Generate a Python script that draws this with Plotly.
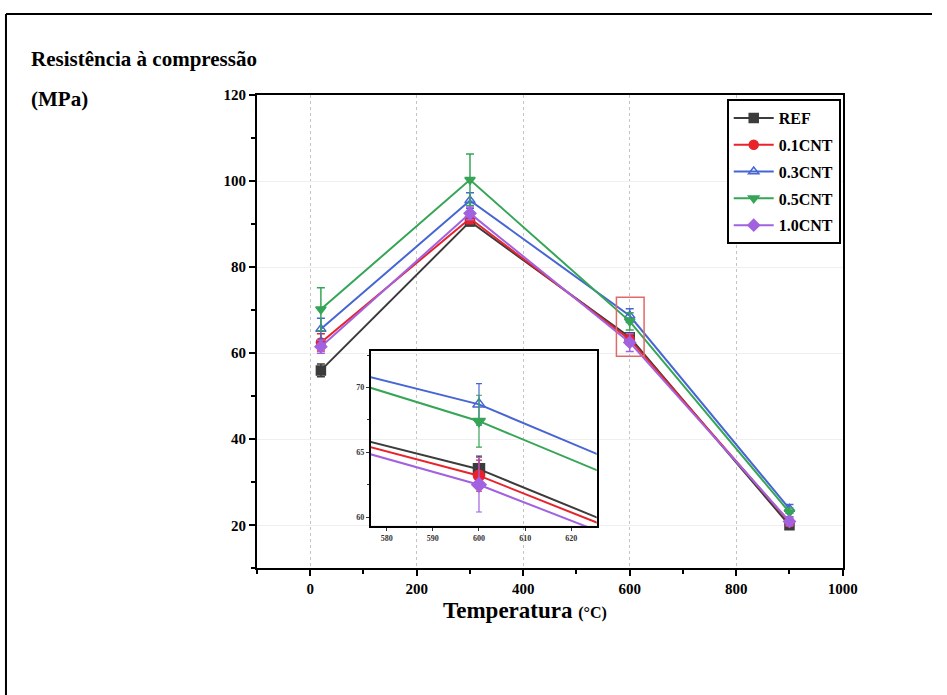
import plotly.graph_objects as go

# Compressive strength (MPa) vs exposure temperature (°C)
temps = [20, 300, 600, 900]
series_names = ["REF", "0.1CNT", "0.3CNT", "0.5CNT", "1.0CNT"]
ref_vals = [56.0, 90.6, 63.7, 20.0]
cnt01_vals = [62.5, 91.3, 63.2, 20.7]
cnt03_vals = [65.6, 95.5, 68.7, 23.8]
cnt05_vals = [70.2, 100.3, 67.4, 23.0]
cnt10_vals = [61.5, 92.5, 62.5, 20.9]
ref_err = [1.5, 1.0, 1.0, 0.8]
cnt01_err = [2.0, 1.2, 1.2, 0.8]
cnt03_err = [2.5, 1.8, 1.6, 1.0]
cnt05_err = [5.0, 6.0, 2.0, 1.0]
cnt10_err = [1.5, 1.5, 2.1, 1.0]

x_ticks = [0, 200, 400, 600, 800, 1000]
y_ticks = [20, 40, 60, 80, 100, 120]
inset_x_ticks = [580, 590, 600, 610, 620]
inset_y_ticks = [60, 65, 70]

values = [ref_vals, cnt01_vals, cnt03_vals, cnt05_vals, cnt10_vals]
errors = [ref_err, cnt01_err, cnt03_err, cnt05_err, cnt10_err]
colors = ["#3c3c3c", "#e8232b", "#4766d4", "#36a556", "#a262e0"]
symbols = ["square", "circle", "triangle-up-open", "triangle-down", "diamond"]

SERIF = "Liberation Serif"
W, H = 947, 695


def px_x(p):
    # pixel column -> paper x
    return ((p + 1) / 0.988) / W


def px_y(p):
    # pixel row -> paper y
    return 1 - ((p - 6) / 0.988) / H


fig = go.Figure()

# main chart
for i, name in enumerate(series_names):
    fig.add_trace(go.Scatter(
        x=temps, y=values[i], name=name, mode="lines+markers",
        line=dict(color=colors[i], width=2),
        marker=dict(symbol=symbols[i], size=9, color=colors[i],
                    line=dict(color=colors[i], width=1.5)),
        error_y=dict(type="data", array=errors[i], color=colors[i],
                     thickness=1.5, width=4),
        legendgroup=name, xaxis="x", yaxis="y",
    ))

# zoomed inset around 600 °C
for i, name in enumerate(series_names):
    fig.add_trace(go.Scatter(
        x=temps, y=values[i], name=name, mode="lines+markers",
        line=dict(color=colors[i], width=2),
        marker=dict(symbol=symbols[i], size=11, color=colors[i],
                    line=dict(color=colors[i], width=1.5)),
        error_y=dict(type="data", array=errors[i], color=colors[i],
                     thickness=1.2, width=3),
        showlegend=False, legendgroup=name, xaxis="x2", yaxis="y2",
    ))

axis_font = dict(family=SERIF, size=15, color="black", weight="bold")
inset_font = dict(family=SERIF, size=8, color="#333333", weight="bold")

fig.update_layout(
    width=W, height=H,
    margin=dict(l=0, r=0, t=0, b=0),
    paper_bgcolor="white", plot_bgcolor="rgba(0,0,0,0)",
    font=dict(family=SERIF, color="black"),
    xaxis=dict(
        domain=[px_x(257), px_x(845)], range=[-100, 1000],
        tickvals=x_ticks, ticks="outside", ticklen=6, tickwidth=2,
        tickcolor="black", tickfont=axis_font,
        showline=True, linewidth=2, linecolor="black", mirror=True,
        showgrid=True, gridcolor="#c4c4c4", griddash="dot", gridwidth=1,
        minor=dict(dtick=100, tick0=0, ticks="outside", ticklen=4,
                   tickwidth=2, tickcolor="black", showgrid=False),
        zeroline=False, anchor="y",
    ),
    yaxis=dict(
        domain=[px_y(566), px_y(93)], range=[10, 120],
        tickvals=y_ticks, ticks="outside", ticklen=6, tickwidth=2,
        tickcolor="black", tickfont=axis_font,
        showline=True, linewidth=2, linecolor="black", mirror=True,
        showgrid=True, gridcolor="#efefef", gridwidth=1,
        minor=dict(dtick=10, tick0=0, ticks="outside", ticklen=4,
                   tickwidth=2, tickcolor="black", showgrid=False),
        zeroline=False, anchor="x",
    ),
    xaxis2=dict(
        domain=[px_x(371), px_x(598)], range=[576.5, 625.5],
        tickvals=inset_x_ticks, ticks="outside", ticklen=3, tickwidth=1,
        tickcolor="#333333", tickfont=inset_font,
        showline=True, linewidth=1.5, linecolor="black", mirror=True,
        showgrid=False, zeroline=False, anchor="y2",
    ),
    yaxis2=dict(
        domain=[px_y(524), px_y(349)], range=[59.3, 72.8],
        tickvals=inset_y_ticks, ticks="outside", ticklen=3, tickwidth=1,
        tickcolor="#333333", tickfont=inset_font,
        minor=dict(dtick=2.5, tick0=0, ticks="outside", ticklen=2,
                   tickcolor="#333333"),
        showline=True, linewidth=1.5, linecolor="black", mirror=True,
        showgrid=False, zeroline=False, anchor="x2",
    ),
    legend=dict(
        x=px_x(843), y=px_y(97), xanchor="right", yanchor="top",
        bgcolor="white", bordercolor="black", borderwidth=2,
        font=dict(family=SERIF, size=16, color="black", weight="bold"),
        tracegroupgap=3, itemwidth=40,
    ),
)

# region that the inset magnifies
fig.add_shape(type="rect", xref="x", yref="y", x0=575, x1=627, y0=59.3, y1=73,
              line=dict(color="#e06a6a", width=1.5))

# outer frame
fig.add_shape(type="line", xref="paper", yref="paper",
              x0=px_x(5), x1=1.0, y0=px_y(12), y1=px_y(12),
              line=dict(color="black", width=2))
fig.add_shape(type="line", xref="paper", yref="paper",
              x0=px_x(5), x1=px_x(5), y0=px_y(12), y1=0,
              line=dict(color="black", width=2))

title_font = dict(family=SERIF, size=21, color="black")
fig.add_annotation(text="<b>Resistência à compressão</b>", xref="paper", yref="paper",
                   x=px_x(28), y=px_y(57), xanchor="left", yanchor="middle",
                   showarrow=False, font=title_font)
fig.add_annotation(text="<b>(MPa)</b>", xref="paper", yref="paper",
                   x=px_x(28), y=px_y(97), xanchor="left", yanchor="middle",
                   showarrow=False, font=title_font)
fig.add_annotation(text="<b>Temperatura</b> <span style='font-size:16px'><b>(°C)</b></span>",
                   xref="paper", yref="paper",
                   x=px_x(526), y=px_y(608), xanchor="center", yanchor="middle",
                   showarrow=False, font=dict(family=SERIF, size=23, color="black"))

fig.write_html("out.html")
